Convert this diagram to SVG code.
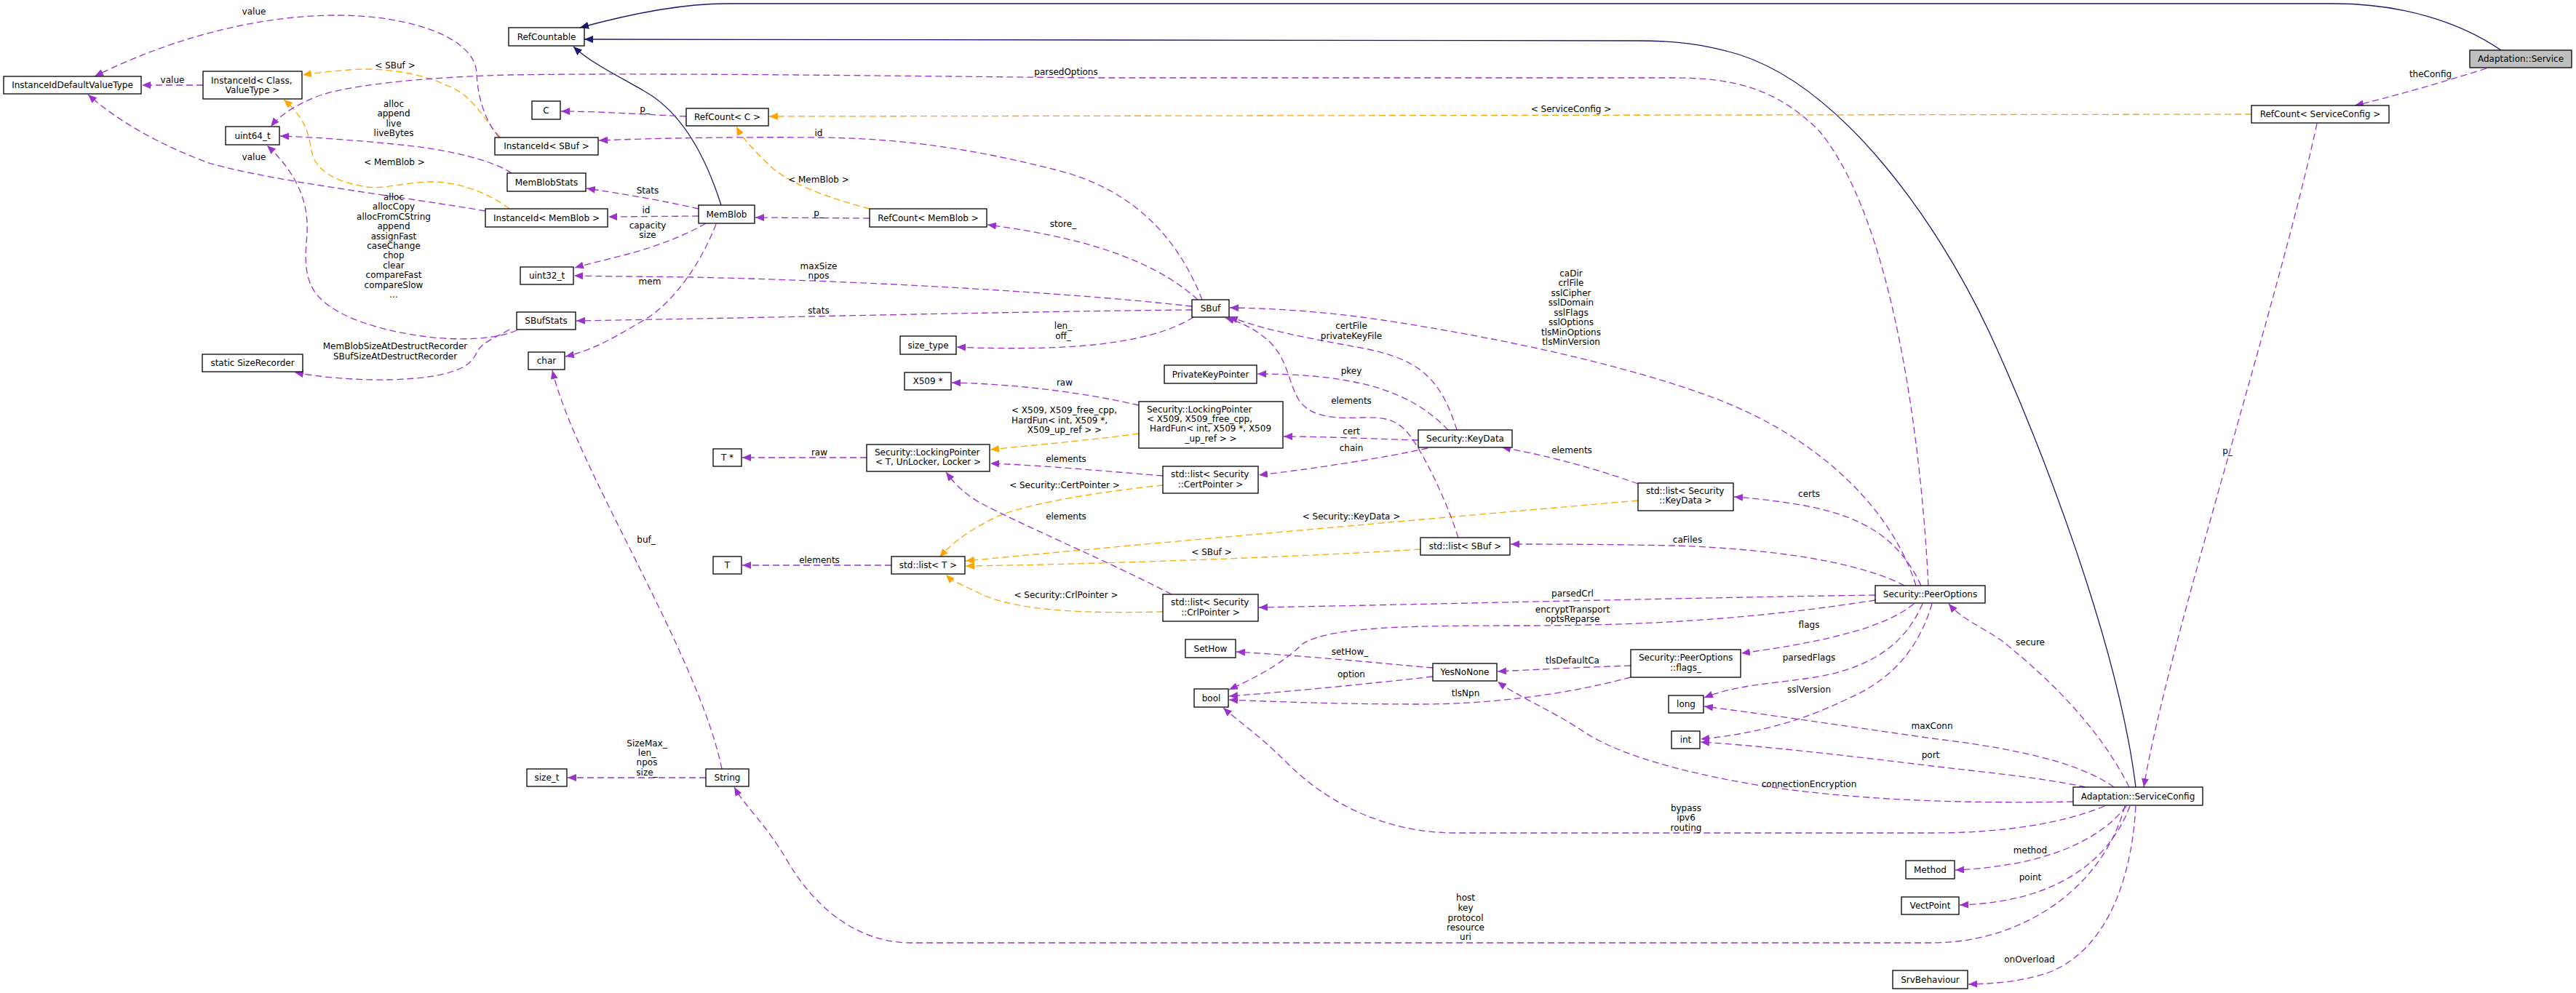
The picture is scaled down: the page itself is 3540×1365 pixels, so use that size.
<svg xmlns="http://www.w3.org/2000/svg" width="3540" height="1365" viewBox="0 0 3540 1365">
<style>
text{font-family:"DejaVu Sans","Liberation Sans",sans-serif;font-size:12px;fill:#000}
.m{text-anchor:middle}
.n rect{fill:#fff;stroke:#000;stroke-width:1.3}
.n rect.sel{fill:#bfbfbf}
.e path{fill:none;stroke-width:1.3}
.u{stroke:#9a32cd;stroke-dasharray:9,5;marker-end:url(#mu)}
.t{stroke:#ffa500;stroke-dasharray:9,5;marker-end:url(#mt)}
.i{stroke:#191970;marker-end:url(#mi)}
</style>
<defs>
<marker id="mu" markerUnits="userSpaceOnUse" markerWidth="13" markerHeight="10" refX="12" refY="5" orient="auto"><path d="M0,0 L12,5 L0,10 z" fill="#9a32cd"/></marker>
<marker id="mt" markerUnits="userSpaceOnUse" markerWidth="13" markerHeight="10" refX="12" refY="5" orient="auto"><path d="M0,0 L12,5 L0,10 z" fill="#ffa500"/></marker>
<marker id="mi" markerUnits="userSpaceOnUse" markerWidth="13" markerHeight="10" refX="12" refY="5" orient="auto"><path d="M0,0 L12,5 L0,10 z" fill="#191970"/></marker>
</defs>
<rect width="3540" height="1365" fill="#fff"/>
<g id="connectors" class="e">
<path class="i" d="M3437,69 C3380,30 3300,5 3208,5 L998,5 C940,5 870,18 797,38"/>
<path class="i" d="M2935,1082 C2910,880 2800,600 2733,455 C2660,300 2530,120 2390,75 C2340,60 2300,56 2250,56 L803,54"/>
<path class="i" d="M991,282 C965,200 930,150 885,125 C845,102 810,85 788,64"/>
<path class="t" d="M688,189 C665,165 650,130 615,118 C580,100 520,92 480,96 C455,98 435,100 416,103"/>
<path class="t" d="M700,287 C675,268 635,250 593,250 C560,250 530,260 505,257 C470,252 440,240 430,215 C424,195 428,170 390,137"/>
<path class="t" d="M1195,287 C1130,270 1080,250 1055,225 C1035,205 1020,190 1012,174"/>
<path class="t" d="M3094,157 L1057,160"/>
<path class="t" d="M1565,596 C1500,605 1420,612 1361,618"/>
<path class="t" d="M1598,667 C1520,675 1420,690 1370,710 C1330,730 1310,745 1291,766"/>
<path class="t" d="M2251,688 C2000,710 1600,745 1327,771"/>
<path class="t" d="M1952,755 C1800,765 1500,776 1327,778"/>
<path class="t" d="M1598,841 C1500,843 1400,842 1345,815 C1320,803 1310,800 1300,790"/>
<path class="u" d="M279,117 L195,117"/>
<path class="u" d="M686,189 C665,165 656,130 655,100 C652,50 560,21 463,21 C350,21 230,55 130,105"/>
<path class="u" d="M667,290 C550,270 380,250 290,225 C220,200 160,165 121,130"/>
<path class="u" d="M703,238 C680,222 620,205 540,198 C480,192 420,188 385,187"/>
<path class="u" d="M710,454 C680,468 620,468 580,462 C530,455 470,440 440,410 C415,385 420,350 422,320 C424,280 410,240 367,200"/>
<path class="u" d="M700,453 C680,465 662,470 655,485 C648,500 635,508 610,514 C560,526 470,524 405,512"/>
<path class="u" d="M2650,805 C2640,600 2600,300 2500,180 C2440,120 2380,107 2300,107 L1500,107 C1200,104 900,100 700,103 C580,106 470,118 435,133 C405,145 385,158 372,174"/>
<path class="u" d="M943,160 C900,158 820,153 771,153"/>
<path class="u" d="M1652,412 C1620,330 1560,260 1449,233 C1350,208 1250,190 1125,189 C1000,188 900,190 823,193"/>
<path class="u" d="M960,287 C930,280 880,270 806,259"/>
<path class="u" d="M960,297 L836,298"/>
<path class="u" d="M970,307 C945,322 900,340 860,350 C830,358 810,362 790,368"/>
<path class="u" d="M1638,421 C1450,400 1150,385 950,381 C880,380 830,380 789,379"/>
<path class="u" d="M984,308 C960,370 920,420 885,440 C850,460 820,480 777,490"/>
<path class="u" d="M1638,426 C1400,428 1100,436 792,441"/>
<path class="u" d="M1646,412 C1600,370 1520,330 1357,309"/>
<path class="u" d="M1640,436 C1610,455 1560,470 1480,476 C1420,480 1360,479 1315,477"/>
<path class="u" d="M1195,300 L1038,299"/>
<path class="u" d="M2002,591 C1980,520 1950,495 1880,480 C1800,465 1740,455 1689,435"/>
<path class="u" d="M2633,805 C2600,700 2500,600 2350,545 C2200,490 2000,455 1900,440 C1820,428 1750,424 1690,423"/>
<path class="u" d="M2004,739 C1985,680 1950,610 1930,590 C1915,576 1900,573 1870,574 C1830,576 1800,572 1785,550 C1770,525 1770,495 1745,470 C1725,452 1710,445 1684,437"/>
<path class="u" d="M1990,591 C1960,560 1920,535 1850,523 C1810,516 1770,514 1728,514"/>
<path class="u" d="M1949,605 C1880,603 1820,600 1764,600"/>
<path class="u" d="M1962,616 C1900,630 1800,645 1730,653"/>
<path class="u" d="M1565,557 C1490,540 1400,528 1308,526"/>
<path class="u" d="M1191,629 L1020,629"/>
<path class="u" d="M1598,654 C1520,648 1440,640 1361,637"/>
<path class="u" d="M1610,817 C1520,770 1400,720 1345,690 C1320,675 1310,662 1300,649"/>
<path class="u" d="M1225,777 L1020,777"/>
<path class="u" d="M2251,665 C2180,640 2120,625 2064,615"/>
<path class="u" d="M2640,805 C2610,740 2560,710 2480,695 C2440,688 2410,685 2383,683"/>
<path class="u" d="M2617,805 C2560,775 2450,755 2300,750 C2200,748 2120,748 2076,748"/>
<path class="u" d="M2577,818 C2300,822 2000,830 1730,835"/>
<path class="u" d="M2577,825 C2450,845 2300,860 2100,860 C1950,860 1830,860 1790,885 C1770,905 1740,925 1689,948"/>
<path class="u" d="M2630,830 C2600,855 2540,878 2393,898"/>
<path class="u" d="M2642,830 C2620,880 2580,915 2500,930 C2440,940 2390,940 2342,959"/>
<path class="u" d="M2655,830 C2640,880 2610,930 2540,960 C2470,995 2400,1010 2337,1016"/>
<path class="u" d="M2926,1082 C2880,990 2800,920 2750,880 C2720,860 2695,850 2678,830"/>
<path class="u" d="M2241,915 C2180,917 2120,920 2058,923"/>
<path class="u" d="M2241,931 C2150,955 2050,968 1950,968 C1850,968 1760,965 1689,962"/>
<path class="u" d="M1969,918 C1900,912 1800,902 1699,896"/>
<path class="u" d="M1969,930 C1880,940 1780,950 1689,957"/>
<path class="u" d="M2849,1102 C2700,1105 2550,1100 2420,1080 C2300,1060 2220,1035 2175,1005 C2130,975 2090,960 2058,937"/>
<path class="u" d="M2905,1082 C2860,1050 2780,1030 2655,1015 C2550,1000 2450,985 2342,971"/>
<path class="u" d="M2866,1082 C2800,1068 2730,1062 2655,1053 C2550,1040 2420,1025 2337,1020"/>
<path class="u" d="M2892,1108 C2840,1130 2760,1145 2655,1145 L2000,1145 C1900,1145 1820,1100 1770,1050 C1730,1010 1700,990 1681,973"/>
<path class="u" d="M2920,1108 C2890,1220 2780,1296 2655,1296 L1252,1296 C1180,1296 1120,1250 1080,1180 C1050,1130 1025,1110 1009,1082"/>
<path class="u" d="M2922,1108 C2890,1150 2820,1190 2687,1196"/>
<path class="u" d="M2927,1108 C2900,1180 2830,1240 2693,1244"/>
<path class="u" d="M2935,1108 C2930,1200 2900,1300 2820,1335 C2780,1350 2740,1352 2705,1353"/>
<path class="u" d="M3184,170 C3130,420 2980,880 2946,1082"/>
<path class="u" d="M3417,94 C3350,115 3280,135 3236,145"/>
<path class="u" d="M970,1069 L780,1069"/>
<path class="u" d="M992,1057 C960,900 790,640 759,509"/>
</g>
<g id="edge-labels">
<text class="m" x="349" y="20">value</text>
<text class="m" x="237" y="114">value</text>
<text class="m" x="543" y="94">&lt; SBuf &gt;</text>
<text class="m" x="541" y="147">alloc</text>
<text class="m" x="541" y="160">append</text>
<text class="m" x="541" y="174">live</text>
<text class="m" x="541" y="187">liveBytes</text>
<text class="m" x="349" y="220">value</text>
<text class="m" x="542" y="227">&lt; MemBlob &gt;</text>
<text class="m" x="541" y="275">alloc</text>
<text class="m" x="541" y="288">allocCopy</text>
<text class="m" x="541" y="302">allocFromCString</text>
<text class="m" x="541" y="315">append</text>
<text class="m" x="541" y="329">assignFast</text>
<text class="m" x="541" y="342">caseChange</text>
<text class="m" x="541" y="355">chop</text>
<text class="m" x="541" y="369">clear</text>
<text class="m" x="541" y="382">compareFast</text>
<text class="m" x="541" y="396">compareSlow</text>
<text class="m" x="541" y="409">...</text>
<text class="m" x="1465" y="103">parsedOptions</text>
<text class="m" x="886" y="154">p_</text>
<text class="m" x="1125" y="187">id</text>
<text class="m" x="1125" y="251">&lt; MemBlob &gt;</text>
<text class="m" x="1125" y="297">p_</text>
<text class="m" x="1461" y="312">store_</text>
<text class="m" x="890" y="266">Stats</text>
<text class="m" x="888" y="293">id</text>
<text class="m" x="890" y="314">capacity</text>
<text class="m" x="890" y="327">size</text>
<text class="m" x="1125" y="370">maxSize</text>
<text class="m" x="1125" y="383">npos</text>
<text class="m" x="893" y="391">mem</text>
<text class="m" x="1125" y="431">stats</text>
<text class="m" x="1461" y="452">len_</text>
<text class="m" x="1461" y="466">off_</text>
<text class="m" x="2159" y="154">&lt; ServiceConfig &gt;</text>
<text class="m" x="2159" y="380">caDir</text>
<text class="m" x="2159" y="393">crlFile</text>
<text class="m" x="2159" y="407">sslCipher</text>
<text class="m" x="2159" y="420">sslDomain</text>
<text class="m" x="2159" y="434">sslFlags</text>
<text class="m" x="2159" y="447">sslOptions</text>
<text class="m" x="2159" y="461">tlsMinOptions</text>
<text class="m" x="2159" y="474">tlsMinVersion</text>
<text class="m" x="1857" y="452">certFile</text>
<text class="m" x="1857" y="466">privateKeyFile</text>
<text class="m" x="3340" y="106">theConfig</text>
<text class="m" x="543" y="480">MemBlobSizeAtDestructRecorder</text>
<text class="m" x="543" y="494">SBufSizeAtDestructRecorder</text>
<text class="m" x="888" y="746">buf_</text>
<text class="m" x="1463" y="530">raw</text>
<text x="1390" y="568">&lt; X509, X509_free_cpp,</text>
<text x="1390" y="582">HardFun&lt; int, X509 *,</text>
<text class="m" x="1463" y="595">X509_up_ref &gt; &gt;</text>
<text class="m" x="1126" y="626">raw</text>
<text class="m" x="1465" y="635">elements</text>
<text class="m" x="1463" y="671">&lt; Security::CertPointer &gt;</text>
<text class="m" x="1465" y="714">elements</text>
<text class="m" x="1126" y="774">elements</text>
<text class="m" x="1665" y="763">&lt; SBuf &gt;</text>
<text class="m" x="1465" y="822">&lt; Security::CrlPointer &gt;</text>
<text class="m" x="1857" y="514">pkey</text>
<text class="m" x="1857" y="555">elements</text>
<text class="m" x="1857" y="597">cert</text>
<text class="m" x="1857" y="620">chain</text>
<text class="m" x="2160" y="623">elements</text>
<text class="m" x="2486" y="683">certs</text>
<text class="m" x="1857" y="714">&lt; Security::KeyData &gt;</text>
<text class="m" x="2319" y="746">caFiles</text>
<text class="m" x="2161" y="820">parsedCrl</text>
<text class="m" x="2161" y="842">encryptTransport</text>
<text class="m" x="2161" y="855">optsReparse</text>
<text class="m" x="2486" y="863">flags</text>
<text class="m" x="1855" y="900">setHow_</text>
<text class="m" x="2161" y="912">tlsDefaultCa</text>
<text class="m" x="2486" y="908">parsedFlags</text>
<text class="m" x="3061" y="624">p_</text>
<text class="m" x="2790" y="887">secure</text>
<text class="m" x="889" y="1026">SizeMax_</text>
<text class="m" x="889" y="1039">len_</text>
<text class="m" x="889" y="1052">npos</text>
<text class="m" x="889" y="1066">size_</text>
<text class="m" x="1857" y="931">option</text>
<text class="m" x="2014" y="957">tlsNpn</text>
<text class="m" x="2486" y="952">sslVersion</text>
<text class="m" x="2655" y="1002">maxConn</text>
<text class="m" x="2653" y="1042">port</text>
<text class="m" x="2486" y="1082">connectionEncryption</text>
<text class="m" x="2317" y="1115">bypass</text>
<text class="m" x="2317" y="1128">ipv6</text>
<text class="m" x="2317" y="1142">routing</text>
<text class="m" x="2014" y="1238">host</text>
<text class="m" x="2014" y="1252">key</text>
<text class="m" x="2014" y="1266">protocol</text>
<text class="m" x="2014" y="1279">resource</text>
<text class="m" x="2014" y="1292">uri</text>
<text class="m" x="2790" y="1173">method</text>
<text class="m" x="2790" y="1210">point</text>
<text class="m" x="2789" y="1323">onOverload</text>
</g>
<g id="n_RefCountable" class="n"><rect x="699" y="38" width="104" height="25"/><text class="m" x="751" y="55">RefCountable</text></g>
<g id="n_AdaptationService" class="n"><rect class="sel" x="3394" y="69" width="140" height="24"/><text class="m" x="3464" y="85">Adaptation::Service</text></g>
<g id="n_InstanceIdDefaultValueType" class="n"><rect x="5" y="105" width="189" height="24"/><text class="m" x="99.5" y="121">InstanceIdDefaultValueType</text></g>
<g id="n_InstanceIdClass" class="n"><rect x="279" y="98" width="136" height="38"/><text x="290" y="115">InstanceId&lt; Class,</text><text class="m" x="347" y="128">ValueType &gt;</text></g>
<g id="n_C" class="n"><rect x="731" y="139" width="39" height="25"/><text class="m" x="750.5" y="156">C</text></g>
<g id="n_RefCountC" class="n"><rect x="943" y="149" width="113" height="24"/><text class="m" x="999.5" y="165">RefCount&lt; C &gt;</text></g>
<g id="n_RefCountServiceConfig" class="n"><rect x="3094" y="145" width="189" height="24"/><text class="m" x="3188.5" y="161">RefCount&lt; ServiceConfig &gt;</text></g>
<g id="n_uint64_t" class="n"><rect x="310" y="174" width="74" height="25"/><text class="m" x="347" y="191">uint64_t</text></g>
<g id="n_InstanceIdSBuf" class="n"><rect x="680" y="189" width="142" height="24"/><text class="m" x="751" y="205">InstanceId&lt; SBuf &gt;</text></g>
<g id="n_MemBlobStats" class="n"><rect x="697" y="238" width="108" height="25"/><text class="m" x="751" y="255">MemBlobStats</text></g>
<g id="n_MemBlob" class="n"><rect x="960" y="282" width="77" height="25"/><text class="m" x="998.5" y="299">MemBlob</text></g>
<g id="n_InstanceIdMemBlob" class="n"><rect x="667" y="287" width="168" height="25"/><text class="m" x="751" y="304">InstanceId&lt; MemBlob &gt;</text></g>
<g id="n_RefCountMemBlob" class="n"><rect x="1195" y="287" width="161" height="25"/><text class="m" x="1275.5" y="304">RefCount&lt; MemBlob &gt;</text></g>
<g id="n_uint32_t" class="n"><rect x="715" y="367" width="73" height="24"/><text class="m" x="751.5" y="383">uint32_t</text></g>
<g id="n_SBuf" class="n"><rect x="1638" y="412" width="51" height="24"/><text class="m" x="1663.5" y="428">SBuf</text></g>
<g id="n_SBufStats" class="n"><rect x="710" y="429" width="81" height="24"/><text class="m" x="750.5" y="445">SBufStats</text></g>
<g id="n_size_type" class="n"><rect x="1237" y="462" width="77" height="25"/><text class="m" x="1275.5" y="479">size_type</text></g>
<g id="n_char" class="n"><rect x="726" y="484" width="50" height="24"/><text class="m" x="751" y="500">char</text></g>
<g id="n_SizeRecorder" class="n"><rect x="278" y="487" width="138" height="24"/><text class="m" x="347" y="503">static SizeRecorder</text></g>
<g id="n_PrivateKeyPointer" class="n"><rect x="1600" y="502" width="127" height="25"/><text class="m" x="1663.5" y="519">PrivateKeyPointer</text></g>
<g id="n_X509ptr" class="n"><rect x="1243" y="512" width="64" height="24"/><text class="m" x="1275" y="528">X509 *</text></g>
<g id="n_LockingPointerX509" class="n"><rect x="1565" y="552" width="198" height="64"/><text x="1576" y="567">Security::LockingPointer</text><text x="1576" y="580">&lt; X509, X509_free_cpp,</text><text x="1580" y="593">HardFun&lt; int, X509 *, X509</text><text class="m" x="1664" y="607">_up_ref &gt; &gt;</text></g>
<g id="n_KeyData" class="n"><rect x="1949" y="591" width="129" height="24"/><text class="m" x="2013.5" y="607">Security::KeyData</text></g>
<g id="n_Tptr" class="n"><rect x="980" y="617" width="39" height="24"/><text class="m" x="999.5" y="633">T *</text></g>
<g id="n_LockingPointerT" class="n"><rect x="1191" y="611" width="169" height="37"/><text x="1202" y="626">Security::LockingPointer</text><text class="m" x="1275.5" y="639">&lt; T, UnLocker, Locker &gt;</text></g>
<g id="n_ListCertPointer" class="n"><rect x="1598" y="641" width="131" height="37"/><text x="1609" y="656">std::list&lt; Security</text><text class="m" x="1663.5" y="670">::CertPointer &gt;</text></g>
<g id="n_ListKeyData" class="n"><rect x="2251" y="664" width="131" height="38"/><text x="2262" y="679">std::list&lt; Security</text><text class="m" x="2316.5" y="692">::KeyData &gt;</text></g>
<g id="n_ListSBuf" class="n"><rect x="1952" y="739" width="123" height="24"/><text class="m" x="2013.5" y="755">std::list&lt; SBuf &gt;</text></g>
<g id="n_T" class="n"><rect x="980" y="765" width="39" height="24"/><text class="m" x="999.5" y="781">T</text></g>
<g id="n_ListT" class="n"><rect x="1225" y="765" width="101" height="24"/><text class="m" x="1275.5" y="781">std::list&lt; T &gt;</text></g>
<g id="n_PeerOptions" class="n"><rect x="2577" y="805" width="151" height="24"/><text class="m" x="2652.5" y="821">Security::PeerOptions</text></g>
<g id="n_ListCrlPointer" class="n"><rect x="1598" y="817" width="131" height="37"/><text x="1609" y="832">std::list&lt; Security</text><text class="m" x="1663.5" y="846">::CrlPointer &gt;</text></g>
<g id="n_SetHow" class="n"><rect x="1629" y="879" width="69" height="25"/><text class="m" x="1663.5" y="896">SetHow</text></g>
<g id="n_PeerOptionsFlags" class="n"><rect x="2241" y="893" width="151" height="38"/><text x="2252" y="908">Security::PeerOptions</text><text class="m" x="2316.5" y="922">::flags_</text></g>
<g id="n_YesNoNone" class="n"><rect x="1969" y="912" width="88" height="24"/><text class="m" x="2013" y="928">YesNoNone</text></g>
<g id="n_bool" class="n"><rect x="1641" y="947" width="47" height="25"/><text class="m" x="1664.5" y="964">bool</text></g>
<g id="n_long" class="n"><rect x="2293" y="956" width="48" height="24"/><text class="m" x="2317" y="972">long</text></g>
<g id="n_int" class="n"><rect x="2297" y="1005" width="39" height="24"/><text class="m" x="2316.5" y="1021">int</text></g>
<g id="n_size_t" class="n"><rect x="724" y="1057" width="55" height="24"/><text class="m" x="751.5" y="1073">size_t</text></g>
<g id="n_String" class="n"><rect x="970" y="1057" width="59" height="24"/><text class="m" x="999.5" y="1073">String</text></g>
<g id="n_ServiceConfig" class="n"><rect x="2849" y="1082" width="178" height="25"/><text class="m" x="2938" y="1099">Adaptation::ServiceConfig</text></g>
<g id="n_Method" class="n"><rect x="2619" y="1183" width="67" height="25"/><text class="m" x="2652.5" y="1200">Method</text></g>
<g id="n_VectPoint" class="n"><rect x="2613" y="1233" width="79" height="24"/><text class="m" x="2652.5" y="1249">VectPoint</text></g>
<g id="n_SrvBehaviour" class="n"><rect x="2601" y="1334" width="103" height="25"/><text class="m" x="2652.5" y="1351">SrvBehaviour</text></g>
</svg>
